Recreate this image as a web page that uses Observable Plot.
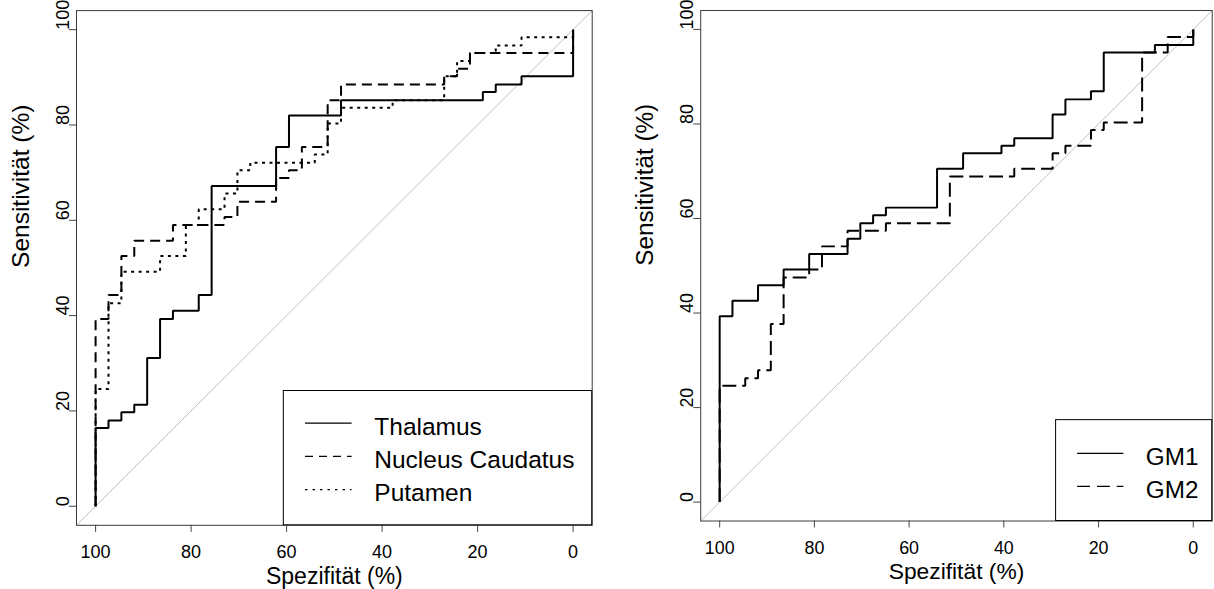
<!DOCTYPE html>
<html><head><meta charset="utf-8">
<script src="https://cdn.jsdelivr.net/npm/d3@7"></script>
<script src="https://cdn.jsdelivr.net/npm/@observablehq/plot@0.6"></script>
<style>
html,body{margin:0;padding:0;overflow:hidden;background:#fff;width:1214px;height:589px;}
#wrap{position:relative;width:1214px;height:589px;overflow:hidden;}
#left,#right{position:absolute;top:0;}
#left{left:0}
#right{left:607px}
svg{font-family:"Liberation Sans",Arial,Helvetica,sans-serif;}
</style></head><body><div id="wrap"><div id="left"></div><div id="right"></div></div>
<script>
// ---- tick labels / texts ----
const xTicks = [100, 80, 60, 40, 20, 0];
const yTicks = [0, 20, 40, 60, 80, 100];
const axisLimits = [104, -4];
const xTitle = "Spezifität (%)";
const yTitle = "Sensitivität (%)";

// ---- left panel series (Spezifität %, Sensitivität %) ----
const thalamusSpec = [100,100,97.3,94.6,91.9,89.2,86.5,83.8,78.4,75.7,62.2,59.5,48.6,18.9,16.2,10.8,0];
const thalamusSens = [0,16.4,18.0,19.7,21.3,31.1,39.3,41.0,44.3,67.2,75.4,82.0,85.2,86.9,88.5,90.2,100];
const caudatusSpec = [100,100,97.3,94.6,91.9,83.8,73.0,70.3,62.2,59.5,56.8,51.4,48.6,27.0,24.3,21.6,0];
const caudatusSens = [0,39.3,44.3,52.5,55.7,59.0,60.7,63.9,68.9,70.5,75.4,85.2,88.5,90.2,91.8,95.1,100];
const putamenSpec = [100,100,97.3,94.6,86.5,81.1,78.4,73.0,70.3,67.6,54.1,51.4,48.6,37.8,27.0,24.3,21.6,16.2,10.8,0];
const putamenSens = [0,24.6,42.6,49.2,52.5,59.0,62.3,65.6,70.5,72.1,73.8,80.3,83.6,85.2,90.2,93.4,95.1,96.7,98.4,100];

// ---- right panel series ----
const gm1Spec = [100,100,97.3,91.9,86.5,81.1,73.0,70.3,67.6,64.9,54.1,48.6,40.5,37.8,29.7,27.0,21.6,18.9,8.1,0];
const gm1Sens = [0,39.3,42.6,45.9,49.2,52.5,55.7,59.0,60.7,62.3,70.5,73.8,75.4,77.0,82.0,85.2,86.9,95.1,96.7,100];
const gm2Spec = [100,100,94.6,91.9,89.2,86.5,81.1,78.4,73.0,64.9,51.4,37.8,29.7,27.0,21.6,18.9,10.8,5.4,0];
const gm2Sens = [0,24.6,26.2,27.9,37.7,47.5,49.2,54.1,57.4,59.0,68.9,70.5,73.8,75.4,78.7,80.3,95.1,98.4,100];

const leftNames = ["Thalamus", "Nucleus Caudatus", "Putamen"];
const rightNames = ["GM1", "GM2"];

function table(spec, sens) { return spec.map((s, i) => ({spec: s, sens: sens[i]})); }

function rocPlot({curves, marginLeft, width, legend}) {
  const plot = Plot.plot({
    width, height: 589,
    marginLeft, marginRight: width - marginLeft - 515.7,
    marginTop: 10.1, marginBottom: 589 - 524.8,
    style: {fontFamily: '"Liberation Sans",Arial,sans-serif', background: "#fff", overflow: "visible"},
    x: {domain: axisLimits},
    y: {domain: [axisLimits[1], axisLimits[0]]},
    marks: [
      Plot.line(axisLimits, {x: d => d, y: d => 100 - d, stroke: "#bebebe", strokeWidth: 1}),
      ...curves.map(c => Plot.line(table(c.spec, c.sens), {
        x: "spec", y: "sens", curve: "step-after", stroke: "#000", strokeWidth: 2,
        strokeDasharray: c.dash, strokeLinecap: "butt", strokeLinejoin: "miter"
      })),
      Plot.frame({stroke: "#3a3a3a", strokeWidth: 1}),
      Plot.axisX({ticks: xTicks, tickSize: 7, tickPadding: 13, fontSize: 18, label: null, tickFormat: d => String(d), stroke: "#444"}),
      Plot.axisY({ticks: yTicks, tickSize: 7, tickFormat: () => "", label: null, stroke: "#444"}),
      Plot.text(yTicks, {y: d => d, text: d => String(d), frameAnchor: "left", dx: -7.5, rotate: -90, lineAnchor: "bottom", fontSize: 18, fill: "#000"}),
      Plot.text([xTitle], {text: d => d, frameAnchor: "bottom", dy: 58.7, lineAnchor: "bottom", fontSize: 23, fill: "#000"}),
      Plot.text([yTitle], {text: d => d, frameAnchor: "left", dx: -48, rotate: -90, lineAnchor: "bottom", fontSize: 24.5, fill: "#000"})
    ]
  });
  // legend (bottom-right of the plot region)
  const xr = plot.scale("x").range, yr = plot.scale("y").range;
  const right = xr[1], bottom = yr[0];
  const svg = d3.select(plot);
  const g = svg.append("g").attr("text-anchor", "start");
  const bx = right - legend.w, by = bottom - legend.h;
  g.append("rect").attr("x", bx).attr("y", by).attr("width", legend.w).attr("height", legend.h)
    .attr("fill", "#fff").attr("stroke", "#000").attr("stroke-width", 1);
  legend.names.forEach((name, i) => {
    const ry = by + legend.first + i * 33.3;
    g.append("line").attr("x1", bx + 21.7).attr("x2", bx + 68.3).attr("y1", ry).attr("y2", ry)
      .attr("stroke", "#000").attr("stroke-width", 1.2).attr("stroke-dasharray", legend.dash[i] || null);
    g.append("text").attr("x", bx + 91).attr("y", ry + 11.5).attr("font-size", 24.5)
      .attr("text-anchor", "start").attr("fill", "#000").text(name);
  });
  return plot;
}

document.getElementById("left").appendChild(rocPlot({
  width: 607, marginLeft: 76,
  curves: [
    {spec: thalamusSpec, sens: thalamusSens, dash: null},
    {spec: caudatusSpec, sens: caudatusSens, dash: "10,6"},
    {spec: putamenSpec, sens: putamenSens, dash: "3,4.5"}
  ],
  legend: {names: leftNames, dash: [null, "8,6", "2.5,5"], w: 308.4, h: 134.3, first: 32.6}
}));
document.getElementById("right").appendChild(rocPlot({
  width: 612, marginLeft: 94,
  curves: [
    {spec: gm1Spec, sens: gm1Sens, dash: null},
    {spec: gm2Spec, sens: gm2Sens, dash: "14,6"}
  ],
  legend: {names: rightNames, dash: [null, "13,7"], w: 157.4, h: 101.7, first: 34}
}));
</script></body></html>
